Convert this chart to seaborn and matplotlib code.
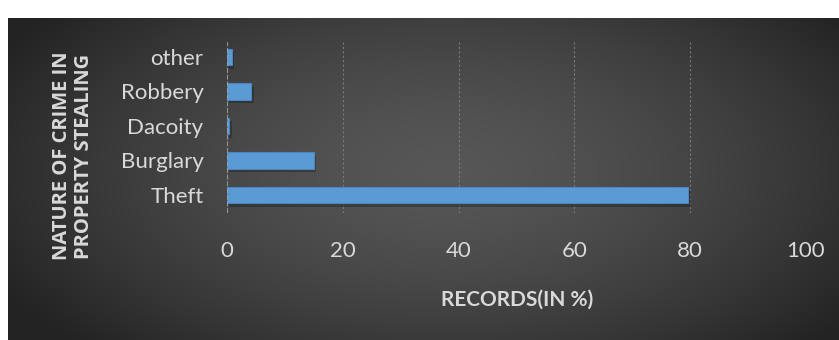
import numpy as np
import pandas as pd
import matplotlib
matplotlib.use("Agg")
import matplotlib.pyplot as plt
import seaborn as sns

categories = ["other", "Robbery", "Dacoity", "Burglary", "Theft"]
values = [0.8, 4.2, 0.4, 15.0, 79.7]
x_ticks = [0, 20, 40, 60, 80, 100]
x_label = "RECORDS(IN %)"
y_label = "NATURE OF CRIME IN\nPROPERTY STEALING"

sns.set_theme(style="dark")
plt.rcParams["font.family"] = ["Lato", "DejaVu Sans"]

W, H = 839, 340
fig = plt.figure(figsize=(W / 100, H / 100), dpi=100)
fig.patch.set_facecolor("white")

# background radial gradient
bg = fig.add_axes([8 / W, 0, (W - 8) / W, (H - 18) / H])
bg.set_axis_off()
nx, ny = 400, 160
xx, yy = np.meshgrid(np.linspace(-1, 1, nx), np.linspace(-1, 1, ny))
r = np.sqrt(((xx - 0.05) / 1.0) ** 2 + ((yy + 0.05) / 1.3) ** 2)
r = np.clip(r, 0, 1.2) / 1.2
shade = 0.34 - 0.2 * r ** 1.5
img = np.dstack([shade, shade, shade])
bg.imshow(img, aspect="auto", extent=[0, 1, 0, 1], interpolation="bilinear")
bg.set_xlim(0, 1)
bg.set_ylim(0, 1)

ax = fig.add_axes([227 / W, (H - 213) / H, (806 - 227) / W, (213 - 42) / H])
ax.patch.set_alpha(0)

df = pd.DataFrame({"category": categories, "value": values})

# soft shadow
for i, v in enumerate(values):
    ax.barh(i + 0.1, v, height=0.48, left=0.4, color="black", alpha=0.25, zorder=1, linewidth=0)

sns.barplot(data=df, x="value", y="category", order=categories, orient="h",
            color="#5B9BD5", width=0.48, ax=ax, saturation=1,
            edgecolor="#4a86c0", linewidth=0.8, zorder=3)

ax.set_xlim(0, 100)
ax.set_ylim(4.52, -0.43)
ax.set_xticks(x_ticks)
ax.set_xticklabels([str(t) for t in x_ticks])
for t in x_ticks[1:]:
    ax.axvline(t, color="#7a7a7a", lw=0.8, ls=(0, (2, 2)), zorder=0)
ax.axvline(0, color="#a6a6a6", lw=1.2, ls=(0, (3, 1)), zorder=4)
for s in ax.spines.values():
    s.set_visible(False)
ax.grid(False)
ax.tick_params(axis="x", length=0, pad=20, labelsize=16, labelcolor="#d9d9d9")
ax.tick_params(axis="y", length=0, pad=17, labelsize=16, labelcolor="#d9d9d9")
ax.set_xlabel("")
ax.set_ylabel("")

fig.text(517 / W, 1 - 300 / H, x_label, ha="center", va="center",
         fontsize=15, fontweight="bold", color="#d9d9d9")
fig.text(73 / W, 1 - 156 / H, y_label, ha="center", va="center", rotation=90,
         fontsize=14.5, fontweight="bold", color="#d9d9d9", linespacing=1.15,
         family=["Open Sans", "DejaVu Sans"])

fig.savefig("out.png", dpi=100, facecolor=fig.get_facecolor())
